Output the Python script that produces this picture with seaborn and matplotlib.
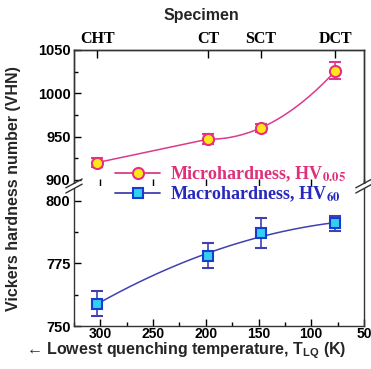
import matplotlib
matplotlib.use("Agg")
import matplotlib.pyplot as plt
import seaborn as sns
from matplotlib.lines import Line2D
from matplotlib.ticker import MultipleLocator

# ---- data ----
specimens = ["CHT", "CT", "SCT", "DCT"]
t_lq = [303, 198, 148, 77]
micro_hv = [920, 947, 960, 1026]
micro_err = [5, 6, 5, 10]
macro_hv = [759, 778, 787, 791]
macro_err = [5, 5, 6, 3]

pink = "#dc3a8c"
pink_edge = "#e8307a"
yellow = "#ffe81a"
blue_line = "#4040b0"
blue_edge = "#1a3ad0"
cyan = "#30d0f0"

sns.set_theme(style="ticks")
plt.rcParams["font.family"] = ["Liberation Sans", "DejaVu Sans"]
plt.rcParams["font.weight"] = "bold"
plt.rcParams["mathtext.fontset"] = "custom"
plt.rcParams["mathtext.rm"] = "Liberation Sans:bold"
plt.rcParams["mathtext.it"] = "Liberation Sans:bold"
plt.rcParams["mathtext.bf"] = "Liberation Sans:bold"

fig = plt.figure(figsize=(3.71, 3.69), dpi=100)
ax_top = fig.add_axes([0.1995, 0.496, 0.7815, 0.3686])
ax_bot = fig.add_axes([0.1995, 0.1165, 0.7815, 0.3795])

# ---- upper panel: microhardness ----
# straight CHT-CT, smooth curve through CT, SCT, DCT
sns.lineplot(x=t_lq[:2], y=micro_hv[:2], ax=ax_top, color=pink, lw=1.1)
sns.regplot(x=t_lq[1:], y=micro_hv[1:], order=2, ci=None, scatter=False,
            ax=ax_top, line_kws=dict(color=pink, lw=1.1))
ax_top.errorbar(t_lq, micro_hv, yerr=micro_err, fmt="o", ms=8, mfc=yellow,
                mec=pink_edge, mew=1.5, ecolor=pink, elinewidth=1.2,
                capsize=4, capthick=1.2, zorder=5)

# ---- lower panel: macrohardness ----
sns.regplot(x=t_lq, y=macro_hv, order=2, ci=None, scatter=False, ax=ax_bot,
            line_kws=dict(color=blue_line, lw=1.1))
ax_bot.errorbar(t_lq, macro_hv, yerr=macro_err, fmt="s", ms=7.5, mfc=cyan,
                mec=blue_edge, mew=1.5, ecolor=blue_line, elinewidth=1.2,
                capsize=4, capthick=1.2, zorder=5)

for ax in (ax_top, ax_bot):
    ax.set_xlim(325, 50)
    ax.set_xlabel("")
    ax.set_ylabel("")
    for s in ax.spines.values():
        s.set_linewidth(1.0)
        s.set_color("#333333")
    ax.tick_params(which="both", direction="in", colors="black",
                   labelsize=10.5, right=False, top=False)
    ax.tick_params(which="major", length=5, width=1)
    ax.tick_params(which="minor", length=3, width=1)
    ax.tick_params(axis="x", pad=1, labelsize=10)
    ax.tick_params(axis="y", pad=2.5)

ax_top.set_ylim(893, 1050)
ax_top.yaxis.set_major_locator(MultipleLocator(50))
ax_top.yaxis.set_minor_locator(MultipleLocator(25))
ax_top.spines["bottom"].set_visible(False)
ax_top.tick_params(axis="x", which="both", bottom=False, labelbottom=False)

ax_bot.set_ylim(750, 806)
ax_bot.yaxis.set_major_locator(MultipleLocator(25))
ax_bot.yaxis.set_minor_locator(MultipleLocator(12.5))
ax_bot.xaxis.set_major_locator(MultipleLocator(50))
ax_bot.xaxis.set_minor_locator(MultipleLocator(25))
ax_bot.spines["top"].set_visible(False)

# ---- top specimen axis ----
ax_sp = ax_top.twiny()
ax_sp.set_xlim(325, 50)
ax_sp.set_xticks(t_lq)
ax_sp.set_xticklabels(specimens, family="Liberation Serif", fontweight="bold",
                      fontsize=11.5)
ax_sp.tick_params(axis="x", direction="in", length=6, width=1, pad=2,
                  colors="black")
ax_sp.spines["bottom"].set_visible(False)
for s in ax_sp.spines.values():
    s.set_linewidth(1.0)
    s.set_color("#333333")

# ---- axis break marks ----
yb = 0.496
for xb in (0.1995, 0.981):
    fig.patches.append(plt.Rectangle((xb - 0.006, yb - 0.006), 0.012, 0.012,
                                     transform=fig.transFigure,
                                     facecolor="white", edgecolor="none",
                                     zorder=10))
    for dy in (-0.007, 0.007):
        fig.add_artist(Line2D([xb - 0.022, xb + 0.022],
                              [yb + dy - 0.012, yb + dy + 0.012],
                              color="#333333", lw=1.0, zorder=11))

# ---- labels ----
fig.text(0.542, 0.958, "Specimen", ha="center", va="center",
         fontsize=11.5, fontweight="bold")
fig.text(0.037, 0.49, "Vickers hardness number (VHN)", rotation=90,
         ha="center", va="center", fontsize=11.5, fontweight="bold")
fig.text(0.503, 0.05, "\u2190 Lowest quenching temperature, T$_{LQ}$ (K)",
         ha="center", va="center", fontsize=11.5, fontweight="bold")

# ---- legend ----
handles = [
    Line2D([], [], color=pink, lw=1.3, marker="o", ms=8, mfc=yellow,
           mec=pink_edge, mew=1.5),
    Line2D([], [], color=blue_line, lw=1.3, marker="s", ms=7, mfc=cyan,
           mec=blue_edge, mew=1.5),
]
labels = [r"Microhardness, HV$_{\mathbf{0.05}}$",
          r"Macrohardness, HV$_{\mathbf{60}}$"]
leg = fig.legend(handles, labels, loc="center left",
                 bbox_to_anchor=(0.31, 0.5), frameon=False,
                 handlelength=2.5, handletextpad=0.55, labelspacing=0.05,
                 borderpad=0, borderaxespad=0,
                 prop=dict(family="Liberation Serif", weight="bold",
                           size=13))
for txt, col in zip(leg.get_texts(), ["#e0307a", "#2828c0"]):
    txt.set_color(col)
    txt.set_math_fontfamily("stix")

fig.savefig("out.png", dpi=100)
